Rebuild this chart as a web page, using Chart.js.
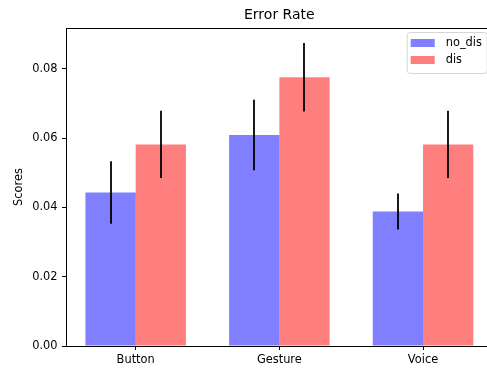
<!DOCTYPE html>
<html>
<head>
<meta charset="utf-8">
<script src="https://cdn.jsdelivr.net/npm/chart.js@4/dist/chart.umd.min.js"></script>
<style>
  html, body { margin: 0; padding: 0; background: #fff; overflow: hidden; }
  canvas { display: block; }
</style>
</head>
<body>
<canvas id="errorChart" width="500" height="368"></canvas>
<script>
// --- datos ---
const categories = ['Button', 'Gesture', 'Voice'];
const seriesNames = ['no_dis', 'dis'];
const noDis = [0.0443, 0.0609, 0.0388];
const noDisErr = [0.0090, 0.0102, 0.0052];
const dis = [0.0582, 0.0776, 0.0582];
const disErr = [0.0097, 0.0099, 0.0097];
const yTicks = [0.00, 0.02, 0.04, 0.06, 0.08];

const FONT = 'DejaVu Sans';

// barras de error (sin caps, como matplotlib por defecto)
const errorBars = {
    id: 'errorBars',
    afterDatasetsDraw(chart) {
        const ctx = chart.ctx;
        const y = chart.scales.y;
        ctx.save();
        ctx.strokeStyle = '#000';
        ctx.lineWidth = 1.8;
        chart.data.datasets.forEach((ds, i) => {
            const meta = chart.getDatasetMeta(i);
            meta.data.forEach((bar, j) => {
                const v = ds.data[j].y;
                const e = ds.errors[j];
                ctx.beginPath();
                ctx.moveTo(Math.round(bar.x), y.getPixelForValue(v - e));
                ctx.lineTo(Math.round(bar.x), y.getPixelForValue(v + e));
                ctx.stroke();
            });
        });
        ctx.restore();
    }
};

// spine superior + leyenda arriba a la derecha
const frameAndLegend = {
    id: 'frameAndLegend',
    afterDraw(chart) {
        const ctx = chart.ctx;
        const a = chart.chartArea;
        ctx.save();
        ctx.strokeStyle = '#000';
        ctx.lineWidth = 1;
        ctx.beginPath();
        ctx.moveTo(a.left, Math.round(a.top) + 0.5);
        ctx.lineTo(a.right, Math.round(a.top) + 0.5);
        ctx.moveTo(Math.round(a.right) - 0.5, a.top);
        ctx.lineTo(Math.round(a.right) - 0.5, a.bottom);
        ctx.stroke();

        const w = 80, h = 41;
        const lx = a.right - 6 - w, ly = a.top + 4;
        ctx.fillStyle = 'rgba(255,255,255,0.8)';
        ctx.strokeStyle = '#d6d6d6';
        ctx.beginPath();
        ctx.roundRect(lx + 0.5, ly + 0.5, w, h, 3);
        ctx.fill();
        ctx.stroke();

        ctx.font = '11.4px "' + FONT + '"';
        ctx.textBaseline = 'middle';
        ctx.textAlign = 'left';
        chart.data.datasets.forEach((ds, i) => {
            const ry = ly + 7 + i * 17;
            ctx.fillStyle = ds.backgroundColor;
            ctx.fillRect(lx + 4, ry, 24, 8);
            ctx.fillStyle = '#000';
            ctx.fillText(ds.label, lx + 39, ry + 4);
        });
        ctx.restore();
    }
};

const ctxErr = document.getElementById('errorChart').getContext('2d');
new Chart(ctxErr, {
    type: 'bar',
    data: {
        datasets: [{
            label: seriesNames[0],
            data: noDis.map((v, i) => ({ x: i, y: v })),
            errors: noDisErr,
            backgroundColor: 'rgba(0,0,255,0.5)',
            borderWidth: 0
        }, {
            label: seriesNames[1],
            data: dis.map((v, i) => ({ x: i, y: v })),
            errors: disErr,
            backgroundColor: 'rgba(255,0,0,0.5)',
            borderWidth: 0
        }]
    },
    options: {
        responsive: false,
        animation: false,
        layout: { padding: { left: 0, right: 7.3, top: 0, bottom: 0 } },
        datasets: { bar: { categoryPercentage: 0.7, barPercentage: 1.0 } },
        plugins: {
            legend: { display: false },
            tooltip: { enabled: false },
            title: {
                display: true,
                text: 'Error Rate',
                fullSize: false,
                color: '#000',
                font: { family: FONT, size: 14, weight: 'normal' },
                padding: { top: 6.5, bottom: 4.7 }
            }
        },
        scales: {
            x: {
                type: 'linear',
                offset: false,
                min: -0.485,
                max: 2.485,
                afterBuildTicks: s => { s.ticks = categories.map((c, i) => ({ value: i })); },
                afterFit: s => { s.height = 22; },
                ticks: {
                    autoSkip: false,
                    maxRotation: 0,
                    padding: 3,
                    color: '#000',
                    font: { family: FONT, size: 11.4 },
                    callback: v => categories[v]
                },
                grid: { offset: false, drawOnChartArea: false, drawTicks: true, tickLength: 4, color: '#000' },
                border: { display: true, color: '#000', width: 1 }
            },
            y: {
                min: 0,
                max: 0.0918,
                afterBuildTicks: s => { s.ticks = yTicks.map(v => ({ value: v })); },
                afterFit: s => { s.width = 66; },
                ticks: {
                    padding: 4.5,
                    color: '#000',
                    font: { family: FONT, size: 11.4 },
                    callback: v => v.toFixed(2)
                },
                grid: { drawOnChartArea: false, drawTicks: true, tickLength: 4, color: '#000' },
                border: { display: true, color: '#000', width: 1 },
                title: {
                    display: true,
                    text: 'Scores',
                    color: '#000',
                    font: { family: FONT, size: 11.4 },
                    padding: { top: 12.5, bottom: 0 }
                }
            }
        }
    },
    plugins: [errorBars, frameAndLegend]
});
</script>
</body>
</html>
